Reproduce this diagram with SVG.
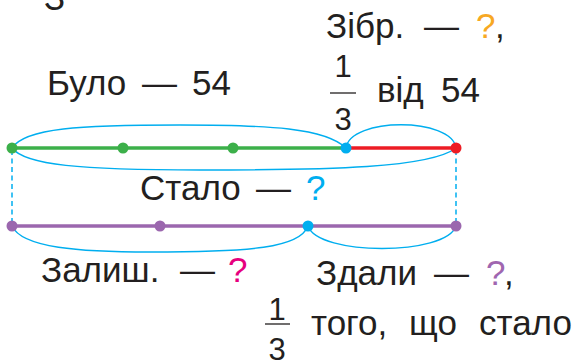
<svg xmlns="http://www.w3.org/2000/svg" width="573" height="362" viewBox="0 0 573 362">
<style>
.t{font-family:"Liberation Sans",Arial,sans-serif;font-size:35px;fill:#231f20}
.f{font-family:"Liberation Sans",Arial,sans-serif;font-size:31px;fill:#231f20;text-anchor:middle}
.arc{fill:none;stroke:#00aeef;stroke-width:1.4}
.dash{fill:none;stroke:#00aeef;stroke-width:1.5;stroke-dasharray:5 3.5}
.fl{stroke:#231f20;stroke-width:1.3}
</style>
<rect width="573" height="362" fill="#fff"/>
<g id="connectors">
<path class="dash" d="M12,150 V224"/>
<path class="dash" d="M456,150 V224"/>
<path class="arc" d="M12,148 C25,128 80,125 180,125 C270,125 325,128 346,148"/>
<path class="arc" d="M12,148 C25,165 80,170 200,170 C330,170 430,168 456,148"/>
<path class="arc" d="M346,148 C350,117 452,117 456,148"/>
<path class="arc" d="M12,226 C22,248 80,252 150,252 C250,252 300,248 308,226"/>
<path class="arc" d="M308,226 C318,256 446,256 456,226"/>
</g>
<g id="top-line">
<line x1="12" y1="148" x2="346" y2="148" stroke="#3cb04a" stroke-width="3.5"/>
<line x1="346" y1="148" x2="456" y2="148" stroke="#ed1c24" stroke-width="3.5"/>
<circle cx="12" cy="148" r="5.5" fill="#3cb04a"/>
<circle cx="123" cy="148" r="5.5" fill="#3cb04a"/>
<circle cx="233" cy="148" r="5.5" fill="#3cb04a"/>
<circle cx="346" cy="148" r="5.5" fill="#00aeef"/>
<circle cx="456" cy="148" r="5.5" fill="#ed1c24"/>
</g>
<g id="bottom-line">
<line x1="12" y1="226" x2="456" y2="226" stroke="#9b67ae" stroke-width="3.5"/>
<circle cx="12" cy="226" r="5.5" fill="#9b67ae"/>
<circle cx="160" cy="226" r="5.5" fill="#9b67ae"/>
<circle cx="308" cy="226" r="5.5" fill="#00aeef"/>
<circle cx="456" cy="226" r="5.5" fill="#9b67ae"/>
</g>
<g id="label-top-cut"><text class="t" x="44" y="10">З</text></g>
<g id="label-bulo"><text class="t" y="95"><tspan x="47">Було</tspan><tspan x="142">—</tspan><tspan x="192">54</tspan></text></g>
<g id="label-zibr">
<text class="t" y="38"><tspan x="326">Зібр.</tspan><tspan x="424">—</tspan><tspan x="476" fill="#f7a823">?</tspan><tspan x="495">,</tspan></text>
<text class="f" x="343" y="77">1</text>
<line class="fl" x1="330" y1="93" x2="356" y2="93"/>
<text class="f" x="343" y="130">3</text>
<text class="t" y="102"><tspan x="377">від</tspan><tspan x="441">54</tspan></text>
</g>
<g id="label-stalo"><text class="t" y="200"><tspan x="140">Стало</tspan><tspan x="256">—</tspan><tspan x="306" fill="#00aeef">?</tspan></text></g>
<g id="label-zalysh"><text class="t" y="282"><tspan x="41">Залиш.</tspan><tspan x="180">—</tspan><tspan x="228" fill="#e6007e">?</tspan></text></g>
<g id="label-zdaly">
<text class="t" y="285"><tspan x="316">Здали</tspan><tspan x="434">—</tspan><tspan x="486" fill="#a066b0">?</tspan><tspan x="504">,</tspan></text>
<text class="f" x="277" y="320">1</text>
<line class="fl" x1="265" y1="324" x2="290" y2="324"/>
<text class="f" x="277" y="360">3</text>
<text class="t" y="335"><tspan x="311">того,</tspan><tspan x="409">що</tspan><tspan x="479">стало</tspan></text>
</g>
</svg>
